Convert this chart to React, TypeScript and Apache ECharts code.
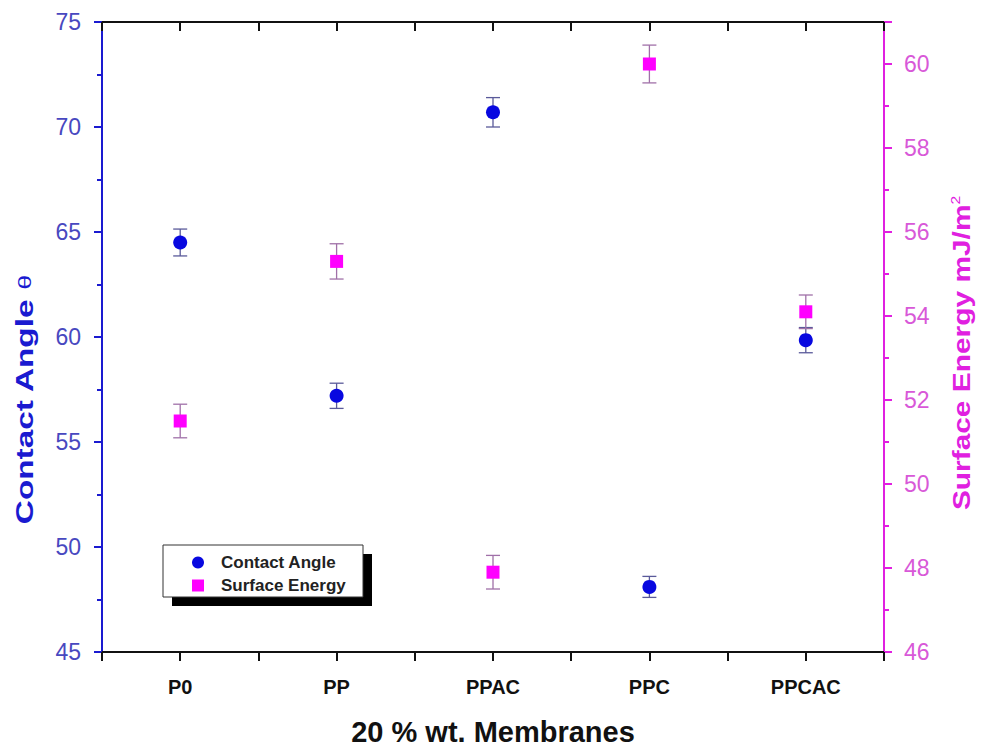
import React, { useEffect, useRef } from "react";
import * as echarts from "echarts";

const categories = ["P0", "PP", "PPAC", "PPC", "PPCAC"];
const contactAngle = [64.5, 57.2, 70.7, 48.1, 59.85];
const contactAngleErr = [0.64, 0.6, 0.7, 0.5, 0.6];
const surfaceEnergy = [51.5, 55.3, 47.9, 60.0, 54.1];
const surfaceEnergyErr = [0.4, 0.42, 0.4, 0.45, 0.4];

const BLUE = "#1a1ad0";
const MAGENTA = "#e020e0";
const FONT = "Liberation Sans, Arial, sans-serif";

function errorSeries(name: string, values: number[], errs: number[], yAxisIndex: number, color: string) {
  return {
    type: "custom",
    name: name + "-err",
    yAxisIndex,
    silent: true,
    z: 1,
    data: values.map((v, i) => [i + 1, v - errs[i], v + errs[i]]),
    renderItem: (params: any, api: any) => {
      const x = api.value(0);
      const lo = api.coord([x, api.value(1)]);
      const hi = api.coord([x, api.value(2)]);
      const w = 7;
      const style = { stroke: color, lineWidth: 1.3 };
      return {
        type: "group",
        children: [
          { type: "line", shape: { x1: lo[0], y1: lo[1], x2: hi[0], y2: hi[1] }, style },
          { type: "line", shape: { x1: lo[0] - w, y1: lo[1], x2: lo[0] + w, y2: lo[1] }, style },
          { type: "line", shape: { x1: hi[0] - w, y1: hi[1], x2: hi[0] + w, y2: hi[1] }, style },
        ],
      };
    },
  };
}

export default function App() {
  const ref = useRef<HTMLDivElement>(null);
  useEffect(() => {
    if (!ref.current) return;
    const chart = echarts.init(ref.current, undefined, { renderer: "svg" });
    const xAxisBase = {
      type: "value",
      min: 0.5,
      max: 5.5,
      interval: 0.5,
      splitLine: { show: false },
      axisLine: { show: true, lineStyle: { color: "#111", width: 2 } },
    };
    chart.setOption({
      animation: false,
      backgroundColor: "#ffffff",
      grid: { left: 102, right: 105, top: 22, bottom: 97, containLabel: false },
      legend: {
        orient: "vertical",
        left: 187,
        top: 549,
        itemGap: 6,
        itemWidth: 12,
        itemHeight: 12,
        textStyle: { fontFamily: FONT, fontSize: 17, fontWeight: "bold", color: "#222", padding: [0, 0, 0, 12] },
        data: [
          { name: "Contact Angle", icon: "circle" },
          { name: "Surface Energy", icon: "rect" },
        ],
      },
      graphic: [
        { type: "rect", z: 0, shape: { x: 172, y: 554, width: 200, height: 52 }, style: { fill: "#000" } },
        { type: "rect", z: 0, shape: { x: 163, y: 545, width: 200, height: 52 }, style: { fill: "#fff", stroke: "#333", lineWidth: 1 } },
        {
          type: "text",
          x: 25,
          y: 400,
          rotation: Math.PI / 2,
          scaleX: 1.45,
          style: {
            text: "Contact Angle {th|θ}",
            fill: BLUE,
            font: "bold 23px " + FONT,
            align: "center",
            verticalAlign: "middle",
            rich: { th: { fontFamily: FONT, fontSize: 18, fontWeight: "normal", fill: BLUE, color: BLUE } },
          },
        },
        {
          type: "text",
          x: 962,
          y: 353,
          rotation: Math.PI / 2,
          scaleX: 1.3,
          style: {
            text: "Surface Energy mJ/m{sup|2}",
            fill: MAGENTA,
            font: "bold 23px " + FONT,
            align: "center",
            verticalAlign: "middle",
            rich: { sup: { fontFamily: FONT, fontSize: 12, fontWeight: "normal", fill: MAGENTA, color: MAGENTA, verticalAlign: "top", padding: [0, 0, 12, 0] } },
          },
        },
      ],
      xAxis: [
        {
          ...xAxisBase,
          position: "bottom",
          name: "20 % wt. Membranes",
          nameLocation: "middle",
          nameGap: 65,
          nameTextStyle: { fontFamily: FONT, fontSize: 29, fontWeight: "bold", color: "#111" },
          axisTick: { show: true, length: 9, inside: false, lineStyle: { color: "#111", width: 2 } },
          axisLabel: {
            show: true,
            margin: 25,
            fontFamily: FONT,
            fontSize: 20,
            fontWeight: "bold",
            color: "#111",
            formatter: (v: number) => (Number.isInteger(v) ? categories[v - 1] ?? "" : ""),
          },
        },
        {
          ...xAxisBase,
          position: "top",
          axisTick: { show: true, length: 9, inside: true, lineStyle: { color: "#111", width: 2 } },
          axisLabel: { show: false },
        },
      ],
      yAxis: [
        {
          type: "value",
          position: "left",
          min: 45,
          max: 75,
          interval: 5,
          splitLine: { show: false },
          axisLine: { show: true, lineStyle: { color: BLUE, width: 2 } },
          axisTick: { show: true, length: 8, lineStyle: { color: BLUE, width: 2 } },
          minorTick: { show: true, splitNumber: 2, length: 5, lineStyle: { color: BLUE, width: 2 } },
          axisLabel: { fontFamily: FONT, fontSize: 23, color: "#4848c0", margin: 21 },
        },
        {
          type: "value",
          position: "right",
          min: 46,
          max: 61,
          interval: 2,
          splitLine: { show: false },
          axisLine: { show: true, lineStyle: { color: MAGENTA, width: 2 } },
          axisTick: { show: true, length: 8, lineStyle: { color: MAGENTA, width: 2 } },
          minorTick: { show: true, splitNumber: 2, length: 5, lineStyle: { color: MAGENTA, width: 2 } },
          axisLabel: {
            fontFamily: FONT,
            fontSize: 23,
            color: "#d858d8",
            margin: 20,
            formatter: (v: number) => (v === 61 ? "" : String(v)),
          },
        },
      ],
      series: [
        errorSeries("Contact Angle", contactAngle, contactAngleErr, 0, "#5a5a9a"),
        errorSeries("Surface Energy", surfaceEnergy, surfaceEnergyErr, 1, "#a070a8"),
        {
          type: "scatter",
          name: "Contact Angle",
          yAxisIndex: 0,
          symbol: "circle",
          symbolSize: 14,
          z: 3,
          itemStyle: { color: "#0808e0", opacity: 1 },
          data: contactAngle.map((v, i) => [i + 1, v]),
        },
        {
          type: "scatter",
          name: "Surface Energy",
          yAxisIndex: 1,
          symbol: "rect",
          symbolSize: 13,
          z: 3,
          itemStyle: { color: "#ff00ff", opacity: 1 },
          data: surfaceEnergy.map((v, i) => [i + 1, v]),
        },
      ],
    });
    return () => chart.dispose();
  }, []);
  return <div ref={ref} style={{ width: 989, height: 751, position: "absolute", left: 0, top: 0 }} />;
}
